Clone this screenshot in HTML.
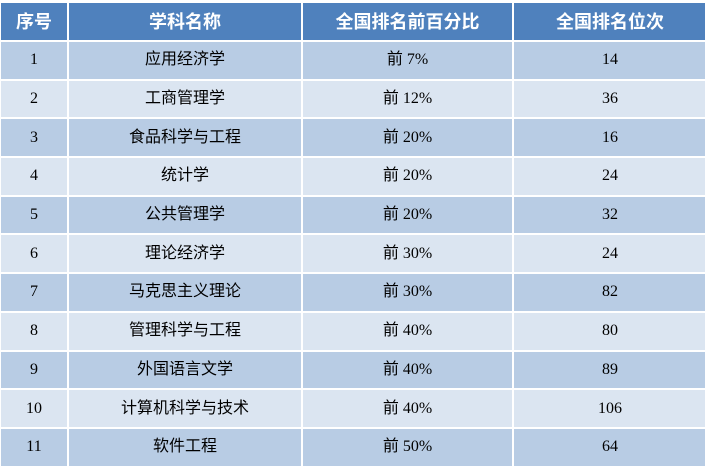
<!DOCTYPE html>
<html><head><meta charset="utf-8"><style>
html,body{margin:0;padding:0;background:#fff;width:705px;height:469px;overflow:hidden}
table{position:absolute;left:-1px;top:1px;border-collapse:collapse;table-layout:fixed;width:707px}
td,th{border:2px solid #fff;text-align:center;vertical-align:middle;padding:0;line-height:18px;color:#000;box-sizing:border-box}
th{background:#4f81bd;color:#fff;height:39px;font-family:"Liberation Sans","Noto Sans CJK SC",sans-serif;font-size:18px;font-weight:bold}
td{height:38.7px;font-family:"Liberation Serif","Noto Sans CJK SC",serif;font-size:16px}
tr:nth-child(odd) td{background:#dbe5f1}
tr:nth-child(even) td{background:#b8cce4}
</style></head><body>
<table>
<colgroup><col style="width:68px"><col style="width:234px"><col style="width:211px"><col style="width:194px"></colgroup>
<tr><th>序号</th><th>学科名称</th><th>全国排名前百分比</th><th>全国排名位次</th></tr>
<tr><td>1</td><td>应用经济学</td><td>前 7%</td><td>14</td></tr>
<tr><td>2</td><td>工商管理学</td><td>前 12%</td><td>36</td></tr>
<tr><td>3</td><td>食品科学与工程</td><td>前 20%</td><td>16</td></tr>
<tr><td>4</td><td>统计学</td><td>前 20%</td><td>24</td></tr>
<tr><td>5</td><td>公共管理学</td><td>前 20%</td><td>32</td></tr>
<tr><td>6</td><td>理论经济学</td><td>前 30%</td><td>24</td></tr>
<tr><td>7</td><td>马克思主义理论</td><td>前 30%</td><td>82</td></tr>
<tr><td>8</td><td>管理科学与工程</td><td>前 40%</td><td>80</td></tr>
<tr><td>9</td><td>外国语言文学</td><td>前 40%</td><td>89</td></tr>
<tr><td>10</td><td>计算机科学与技术</td><td>前 40%</td><td>106</td></tr>
<tr><td>11</td><td>软件工程</td><td>前 50%</td><td>64</td></tr>
</table>
</body></html>
